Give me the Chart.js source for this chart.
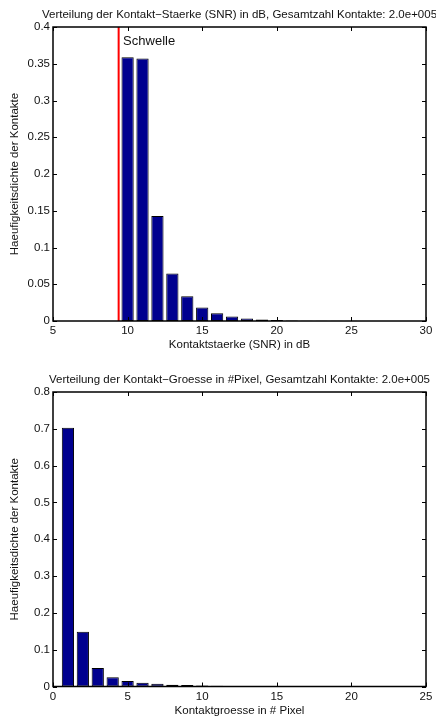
<!DOCTYPE html>
<html>
<head>
<meta charset="utf-8">
<script src="https://cdn.jsdelivr.net/npm/chart.js@4.4.1/dist/chart.umd.min.js"></script>
<style>
  body { margin: 0; background: #fff; }
  .plot { position: absolute; left: 0; width: 436px; height: 359px; }
</style>
</head>
<body>
<div class="plot" style="top:0"><canvas id="snrChart" width="436" height="359"></canvas></div>
<div class="plot" style="top:359px"><canvas id="sizeChart" width="436" height="359"></canvas></div>
<script>
// --- data ---
const snrBins = [5, 6, 7, 8, 9, 10, 11, 12, 13, 14, 15, 16, 17, 18, 19, 20, 21, 22, 23, 24, 25, 26, 27, 28, 29, 30];
const snrDensity = [0, 0, 0, 0, 0, 0.359, 0.357, 0.143, 0.0646, 0.0337, 0.0182, 0.0105, 0.0062, 0.0034, 0.002, 0.0012,
    0.0007, 0.0005, 0.0003, 0.0002, 0.0002, 0.0001, 0.0001, 0.0001, 0.0001, 0];
const snrThreshold = 9.4;
const snrTicks = [5, 10, 15, 20, 25, 30];
const snrDensityTicks = [0, 0.05, 0.1, 0.15, 0.2, 0.25, 0.3, 0.35, 0.4];

const sizeBins = [1, 2, 3, 4, 5, 6, 7, 8, 9, 10, 11, 12, 13, 14, 15, 16, 17, 18, 19, 20, 21, 22, 23, 24];
const sizeDensity = [0.703, 0.149, 0.05, 0.0254, 0.015, 0.01, 0.0073, 0.0048, 0.004, 0.003, 0.0022, 0.0015,
    0.0011, 0.0008, 0.0006, 0.0005, 0.0004, 0.0003, 0.0003, 0.0002, 0.0002, 0.0001, 0.0001, 0.0001];
const sizeTicks = [0, 5, 10, 15, 20, 25];
const sizeDensityTicks = [0, 0.1, 0.2, 0.3, 0.4, 0.5, 0.6, 0.7, 0.8];

const FONT = "'Liberation Sans', Arial, Helvetica, sans-serif";
const FS = 11.5;
const TEXT = '#111';
const BAR = 'rgb(0,0,143)';

Chart.defaults.font.family = FONT;
Chart.defaults.font.size = FS;
Chart.defaults.color = TEXT;

// MATLAB-like box with inward ticks, plus title and text labels
const matlabAxes = {
    id: 'matlabAxes',
    afterDatasetsDraw(chart, args, opts) {
        const { ctx, chartArea: a, scales: { x, y } } = chart;
        ctx.save();
        ctx.strokeStyle = '#000';
        ctx.lineWidth = 1;
        ctx.beginPath();
        x.ticks.forEach(t => {
            const px = Math.round(x.getPixelForValue(t.value)) + 0.5;
            ctx.moveTo(px, a.bottom); ctx.lineTo(px, a.bottom - 4);
            ctx.moveTo(px, a.top); ctx.lineTo(px, a.top + 4);
        });
        y.ticks.forEach(t => {
            const py = Math.round(y.getPixelForValue(t.value)) + 0.5;
            ctx.moveTo(a.left, py); ctx.lineTo(a.left + 4, py);
            ctx.moveTo(a.right, py); ctx.lineTo(a.right - 4, py);
        });
        ctx.stroke();
        ctx.lineWidth = 1.5;
        ctx.strokeRect(a.left, a.top, a.right - a.left, a.bottom - a.top);

        ctx.fillStyle = TEXT;
        ctx.font = FS + 'px ' + FONT;
        ctx.textAlign = 'center';
        ctx.textBaseline = 'middle';
        ctx.fillText(opts.title, (a.left + a.right) / 2, a.top - 12);

        (opts.labels || []).forEach(l => {
            ctx.font = l.size + 'px ' + FONT;
            ctx.textAlign = 'left';
            ctx.fillText(l.text, x.getPixelForValue(l.x), y.getPixelForValue(l.y));
        });
        ctx.restore();
    }
};

function axes(ticks, title, isY) {
    return {
        type: 'linear',
        min: ticks[0],
        max: ticks[ticks.length - 1],
        offset: false,
        grid: { display: false, drawTicks: false },
        border: { display: false },
        afterBuildTicks: scale => { scale.ticks = ticks.map(v => ({ value: v })); },
        afterFit: scale => { if (isY) scale.width = 53; else scale.height = 31; },
        ticks: { padding: isY ? 3 : 3, color: TEXT, font: { size: FS }, maxRotation: 0, autoSkip: false, callback: v => String(v) },
        title: { display: true, text: title, color: TEXT, font: { size: FS }, padding: isY ? { top: 8 } : { bottom: 0 } }
    };
}

function histChart(id, bins, values, xTicks, yTicks, xTitle, title, padTop, padBottom, extraSets, labels) {
    const datasets = [{
        type: 'bar',
        data: bins.map((b, i) => ({ x: b, y: values[i] })),
        backgroundColor: BAR,
        borderColor: '#000',
        borderWidth: 1,
        borderSkipped: false,
        barPercentage: 0.82,
        categoryPercentage: 1
    }].concat(extraSets);

    return new Chart(document.getElementById(id), {
        type: 'bar',
        data: { datasets },
        options: {
            responsive: false,
            animation: false,
            layout: { padding: { top: padTop, right: 10, bottom: padBottom, left: 0 } },
            scales: {
                x: axes(xTicks, xTitle, false),
                y: axes(yTicks, 'Haeufigkeitsdichte der Kontakte', true)
            },
            plugins: {
                legend: { display: false },
                tooltip: { enabled: false },
                matlabAxes: { title, labels }
            }
        },
        plugins: [matlabAxes]
    });
}

histChart('snrChart', snrBins, snrDensity, snrTicks, snrDensityTicks,
    'Kontaktstaerke (SNR) in dB',
    'Verteilung der Kontakt\u2212Staerke (SNR) in dB, Gesamtzahl Kontakte: 2.0e+005',
    27, 7,
    [{
        type: 'line',
        data: [{ x: snrThreshold, y: snrDensityTicks[0] }, { x: snrThreshold, y: snrDensityTicks[snrDensityTicks.length - 1] }],
        borderColor: '#ff0000',
        borderWidth: 2,
        pointRadius: 0
    }],
    [{ text: 'Schwelle', x: snrThreshold + 0.3, y: 0.38, size: 13 }]);

histChart('sizeChart', sizeBins, sizeDensity, sizeTicks, sizeDensityTicks,
    'Kontaktgroesse in # Pixel',
    'Verteilung der Kontakt\u2212Groesse in #Pixel, Gesamtzahl Kontakte: 2.0e+005',
    33, 0.5, [], []);
</script>
</body>
</html>
